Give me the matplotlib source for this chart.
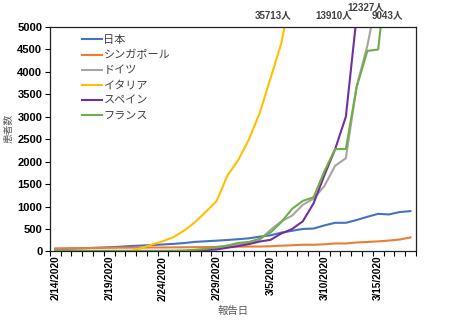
import numpy as np
import matplotlib.pyplot as plt
import matplotlib.transforms as mtransforms
from matplotlib.ticker import FixedLocator, NullFormatter

# report dates 2/14/2020 .. 3/18/2020
dates = ['2/14/2020', '2/15/2020', '2/16/2020', '2/17/2020', '2/18/2020', '2/19/2020',
         '2/20/2020', '2/21/2020', '2/22/2020', '2/23/2020', '2/24/2020', '2/25/2020',
         '2/26/2020', '2/27/2020', '2/28/2020', '2/29/2020', '3/1/2020', '3/2/2020',
         '3/3/2020', '3/4/2020', '3/5/2020', '3/6/2020', '3/7/2020', '3/8/2020',
         '3/9/2020', '3/10/2020', '3/11/2020', '3/12/2020', '3/13/2020', '3/14/2020',
         '3/15/2020', '3/16/2020', '3/17/2020', '3/18/2020']

japan = [59, 59, 66, 74, 84, 94, 105, 122, 132, 144, 156, 170, 189, 214, 228, 241, 256,
         274, 293, 331, 360, 420, 461, 502, 511, 581, 639, 639, 701, 773, 839, 825, 878, 900]
singapore = [67, 72, 75, 77, 81, 84, 84, 85, 86, 89, 89, 91, 93, 96, 98, 102, 106,
             108, 110, 110, 117, 130, 138, 150, 150, 160, 178, 178, 200, 212, 226, 243, 266, 313]
germany = [16, 16, 16, 16, 16, 16, 16, 16, 16, 16, 16, 16, 18, 26, 48, 79, 130,
           159, 196, 262, 482, 670, 799, 1040, 1176, 1457, 1908, 2078, 3675, 4585, 5795, 7272, 9257, 12327]
italy = [3, 3, 3, 3, 3, 3, 3, 3, 79, 155, 229, 322, 470, 655, 888, 1128, 1694,
         2036, 2502, 3089, 3858, 4636, 5883, 7375, 9172, 10149, 12462, 15113, 17660, 21157, 24747, 27980, 31506, 35713]
spain = [2, 2, 2, 2, 2, 2, 2, 2, 2, 2, 2, 2, 13, 15, 32, 45, 84,
         120, 165, 222, 259, 400, 500, 673, 1073, 1695, 2277, 3004, 5232, 6391, 7798, 9942, 11748, 13910]
france = [11, 11, 12, 12, 12, 12, 12, 12, 12, 12, 12, 14, 18, 38, 57, 100, 130,
          191, 212, 285, 423, 653, 949, 1126, 1209, 1784, 2281, 2281, 3661, 4469, 4499, 6633, 7652, 9043]

names = ['日本', 'シンガポール', 'ドイツ', 'イタリア', 'スペイン', 'フランス']
colors = ['#4472C4', '#ED7D31', '#A5A5A5', '#FFC000', '#7030A0', '#70AD47']
peaks = ['35713人', '13910人', '12327人', '9043人']

plt.rcParams['font.family'] = ['Liberation Sans', 'Noto Sans CJK JP', 'DejaVu Sans']

fig = plt.figure(figsize=(4.5, 3.22), dpi=100)
ax = fig.add_axes([0.111, 0.219, 0.813, 0.697])

x = np.arange(len(dates))
for name, vals, c in zip(names, [japan, singapore, germany, italy, spain, france], colors):
    ax.plot(x, vals, color=c, lw=1.5, label=name)

ax.set_xlim(-0.5, len(dates) - 0.5)
ax.set_ylim(0, 5000)
ax.set_yticks(np.arange(0, 5001, 500))

# category axis: labels every 5 days, tick marks between categories
ax.set_xticks(x[::5])
ax.set_xticklabels(dates[::5], rotation=90, fontsize=7.2, fontweight='bold')
ax.xaxis.set_minor_locator(FixedLocator(np.arange(-0.5, len(dates), 1)))
ax.xaxis.set_minor_formatter(NullFormatter())
ax.tick_params(axis='x', which='major', length=0, pad=3)
ax.tick_params(axis='x', which='minor', length=3.5, width=0.8, direction='out')
ax.tick_params(axis='y', length=3.5, width=0.8, labelsize=8, pad=2)
for lbl in ax.get_yticklabels():
    lbl.set_fontweight('bold')

for sp in ax.spines.values():
    sp.set_linewidth(0.9)
    sp.set_color('#222222')

ax.set_xlabel('報告日', family=['Noto Sans CJK JP'], fontsize=7.5, color='#595959', labelpad=4)
ax.set_ylabel('患者数', family=['Noto Sans CJK JP'], fontsize=7, color='#595959')
ax.yaxis.set_label_coords(-0.1, 0.55)

leg = ax.legend(loc='upper left', bbox_to_anchor=(0.087, 0.965), frameon=False,
                prop={'family': 'Noto Sans CJK JP', 'size': 8}, handlelength=1.8,
                handletextpad=0.15, labelspacing=0.46, borderaxespad=0, borderpad=0)
for t in leg.get_texts():
    t.set_color('#404040')

# off-scale totals on 3/18
trans = mtransforms.blended_transform_factory(ax.transData, ax.transAxes)
peak_pos = [(20.2, 1.053), (25.9, 1.053), (28.9, 1.087), (30.9, 1.053)]
for txt, (px, py) in zip(peaks, peak_pos):
    ax.text(px, py, txt, transform=trans, ha='center', va='center', fontsize=7,
            fontweight='bold', color='#404040',
            family=['Liberation Sans', 'Noto Sans CJK JP'])

fig.savefig('out.png', dpi=100)
